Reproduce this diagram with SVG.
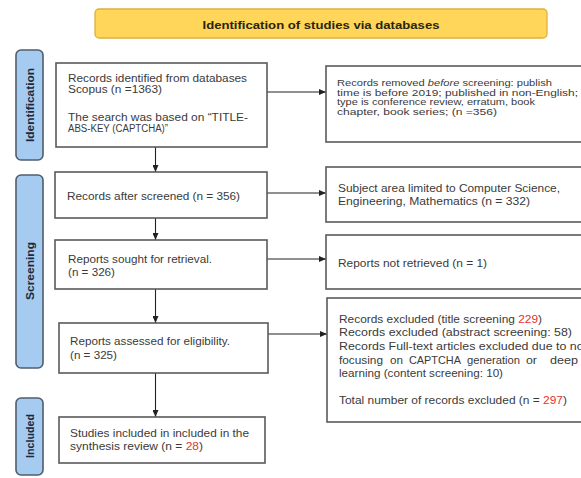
<svg xmlns="http://www.w3.org/2000/svg" width="581" height="478" viewBox="0 0 581 478">
<defs>
<style>
.bg{fill:#ffffff}
.hdr{fill:#FFD659;stroke:#DDB03E;stroke-width:1.3}
.hdrt{font-family:"Liberation Sans",Arial,sans-serif;font-weight:bold;font-size:11.5px;fill:#2a2410}
.side{fill:#A6CBF0;stroke:#4F5D6D;stroke-width:1.6}
.sidet{font-family:"Liberation Sans",Arial,sans-serif;font-weight:bold;font-size:11px;fill:#1d2838}
.box{fill:#ffffff;stroke:#5a5a5a;stroke-width:1.6}
.t{font-family:"Liberation Sans",Arial,sans-serif;font-size:10.5px;fill:#3a3a3a}
.ts{font-family:"Liberation Sans",Arial,sans-serif;font-size:9.8px;fill:#3a3a3a}
.t1{font-family:"Liberation Sans",Arial,sans-serif;font-size:10px;fill:#3a3a3a}
.red{fill:#E8322E}
.ln{stroke:#222;stroke-width:1.1;fill:none}
</style>
<marker id="ah" markerWidth="7" markerHeight="6" refX="7" refY="3" orient="auto" markerUnits="userSpaceOnUse">
<path d="M0,0 L7,3 L0,6 z" fill="#222"/>
</marker>
</defs>
<rect class="bg" x="0" y="0" width="581" height="478"/>

<g id="header">
<rect class="hdr" x="95" y="9" width="452" height="29" rx="4"/>
<text class="hdrt" x="321" y="28.5" text-anchor="middle" textLength="237" lengthAdjust="spacingAndGlyphs">Identification of studies via databases</text>
</g>

<g id="label-identification">
<rect class="side" x="16" y="50" width="27" height="110" rx="5"/>
<text class="sidet" transform="translate(33.5,105) rotate(-90)" text-anchor="middle" textLength="74" lengthAdjust="spacingAndGlyphs">Identification</text>
</g>
<g id="label-screening">
<rect class="side" x="16" y="175" width="27" height="193" rx="5"/>
<text class="sidet" transform="translate(33.5,271) rotate(-90)" text-anchor="middle" textLength="58" lengthAdjust="spacingAndGlyphs">Screening</text>
</g>
<g id="label-included">
<rect class="side" x="16" y="398" width="27" height="77" rx="5"/>
<text class="sidet" transform="translate(33.5,436) rotate(-90)" text-anchor="middle" textLength="44" lengthAdjust="spacingAndGlyphs">Included</text>
</g>

<g id="connectors">
<line class="ln" x1="267" y1="92" x2="326" y2="92" marker-end="url(#ah)"/>
<line class="ln" x1="267" y1="193" x2="326" y2="193" marker-end="url(#ah)"/>
<line class="ln" x1="267" y1="259" x2="326" y2="259" marker-end="url(#ah)"/>
<line class="ln" x1="268" y1="334" x2="327" y2="334" marker-end="url(#ah)"/>
<line class="ln" x1="155.5" y1="147" x2="155.5" y2="172" marker-end="url(#ah)"/>
<line class="ln" x1="155.5" y1="218" x2="155.5" y2="240" marker-end="url(#ah)"/>
<line class="ln" x1="155.5" y1="289" x2="155.5" y2="323" marker-end="url(#ah)"/>
<line class="ln" x1="155.5" y1="373" x2="155.5" y2="417" marker-end="url(#ah)"/>
</g>

<g id="records-identified">
<rect class="box" x="56" y="63" width="211" height="84"/>
<text class="t1" x="68" y="82" textLength="179" lengthAdjust="spacingAndGlyphs">Records identified from databases</text>
<text class="t1" x="68" y="93" textLength="94" lengthAdjust="spacingAndGlyphs">Scopus (n =1363)</text>
<text class="t1" x="68" y="121" textLength="180" lengthAdjust="spacingAndGlyphs">The search was based on “TITLE-</text>
<text class="t1" x="68" y="131.5" textLength="100" lengthAdjust="spacingAndGlyphs">ABS-KEY (CAPTCHA)”</text>
</g>

<g id="records-removed">
<rect class="box" x="326" y="66" width="270" height="76"/>
<text class="ts" x="337" y="86" textLength="215" lengthAdjust="spacingAndGlyphs">Records removed <tspan font-style="italic">before</tspan> screening: publish</text>
<text class="ts" x="337" y="95.5" textLength="241" lengthAdjust="spacingAndGlyphs">time is before 2019; published in non-English;</text>
<text class="ts" x="337" y="105" textLength="198" lengthAdjust="spacingAndGlyphs">type is conference review, erratum, book</text>
<text class="ts" x="337" y="114.5" textLength="160" lengthAdjust="spacingAndGlyphs">chapter, book series; (n =356)</text>
</g>

<g id="records-screened">
<rect class="box" x="55" y="172" width="212" height="46"/>
<text class="t" x="67" y="199.5" textLength="173" lengthAdjust="spacingAndGlyphs">Records after screened (n = 356)</text>
</g>

<g id="subject-area">
<rect class="box" x="326" y="167" width="270" height="55"/>
<text class="t" x="338" y="192" textLength="222" lengthAdjust="spacingAndGlyphs">Subject area limited to Computer Science,</text>
<text class="t" x="338" y="204.5" textLength="192" lengthAdjust="spacingAndGlyphs">Engineering, Mathematics (n = 332)</text>
</g>

<g id="reports-sought">
<rect class="box" x="55" y="240" width="212" height="49"/>
<text class="t" x="68" y="262.5" textLength="144" lengthAdjust="spacingAndGlyphs">Reports sought for retrieval.</text>
<text class="t" x="68" y="275.5" textLength="47" lengthAdjust="spacingAndGlyphs">(n = 326)</text>
</g>

<g id="reports-not-retrieved">
<rect class="box" x="326" y="235" width="270" height="54"/>
<text class="t" x="338" y="267" textLength="149" lengthAdjust="spacingAndGlyphs">Reports not retrieved (n = 1)</text>
</g>

<g id="reports-assessed">
<rect class="box" x="59" y="323" width="209" height="50"/>
<text class="t" x="70" y="345" textLength="160" lengthAdjust="spacingAndGlyphs">Reports assessed for eligibility.</text>
<text class="t" x="70" y="358.5" textLength="47" lengthAdjust="spacingAndGlyphs">(n = 325)</text>
</g>

<g id="records-excluded">
<rect class="box" x="327" y="298" width="270" height="124"/>
<text class="t" x="339" y="323" textLength="203" lengthAdjust="spacingAndGlyphs">Records excluded (title screening <tspan class="red">229</tspan>)</text>
<text class="t" x="339" y="336" textLength="233" lengthAdjust="spacingAndGlyphs">Records excluded (abstract screening: 58)</text>
<text class="t" x="339" y="350" textLength="248" lengthAdjust="spacingAndGlyphs">Records Full-text articles excluded due to not</text>
<text class="t" x="339" y="363.5" textLength="44" lengthAdjust="spacingAndGlyphs">focusing</text>
<text class="t" x="390" y="363.5" textLength="13" lengthAdjust="spacingAndGlyphs">on</text>
<text class="t" x="409" y="363.5" textLength="52" lengthAdjust="spacingAndGlyphs">CAPTCHA</text>
<text class="t" x="467" y="363.5" textLength="53" lengthAdjust="spacingAndGlyphs">generation</text>
<text class="t" x="526" y="363.5" textLength="11" lengthAdjust="spacingAndGlyphs">or</text>
<text class="t" x="550" y="363.5" textLength="28" lengthAdjust="spacingAndGlyphs">deep</text>
<text class="t" x="339" y="377" textLength="164" lengthAdjust="spacingAndGlyphs">learning (content screening: 10)</text>
<text class="t" x="339" y="404" textLength="228" lengthAdjust="spacingAndGlyphs">Total number of records excluded (n = <tspan class="red">297</tspan>)</text>
</g>

<g id="studies-included">
<rect class="box" x="59" y="417" width="206" height="46"/>
<text class="t" x="70" y="437" textLength="179" lengthAdjust="spacingAndGlyphs">Studies included in included in the</text>
<text class="t" x="70" y="450" textLength="133" lengthAdjust="spacingAndGlyphs">synthesis review (n = <tspan class="red">28</tspan>)</text>
</g>
</svg>
